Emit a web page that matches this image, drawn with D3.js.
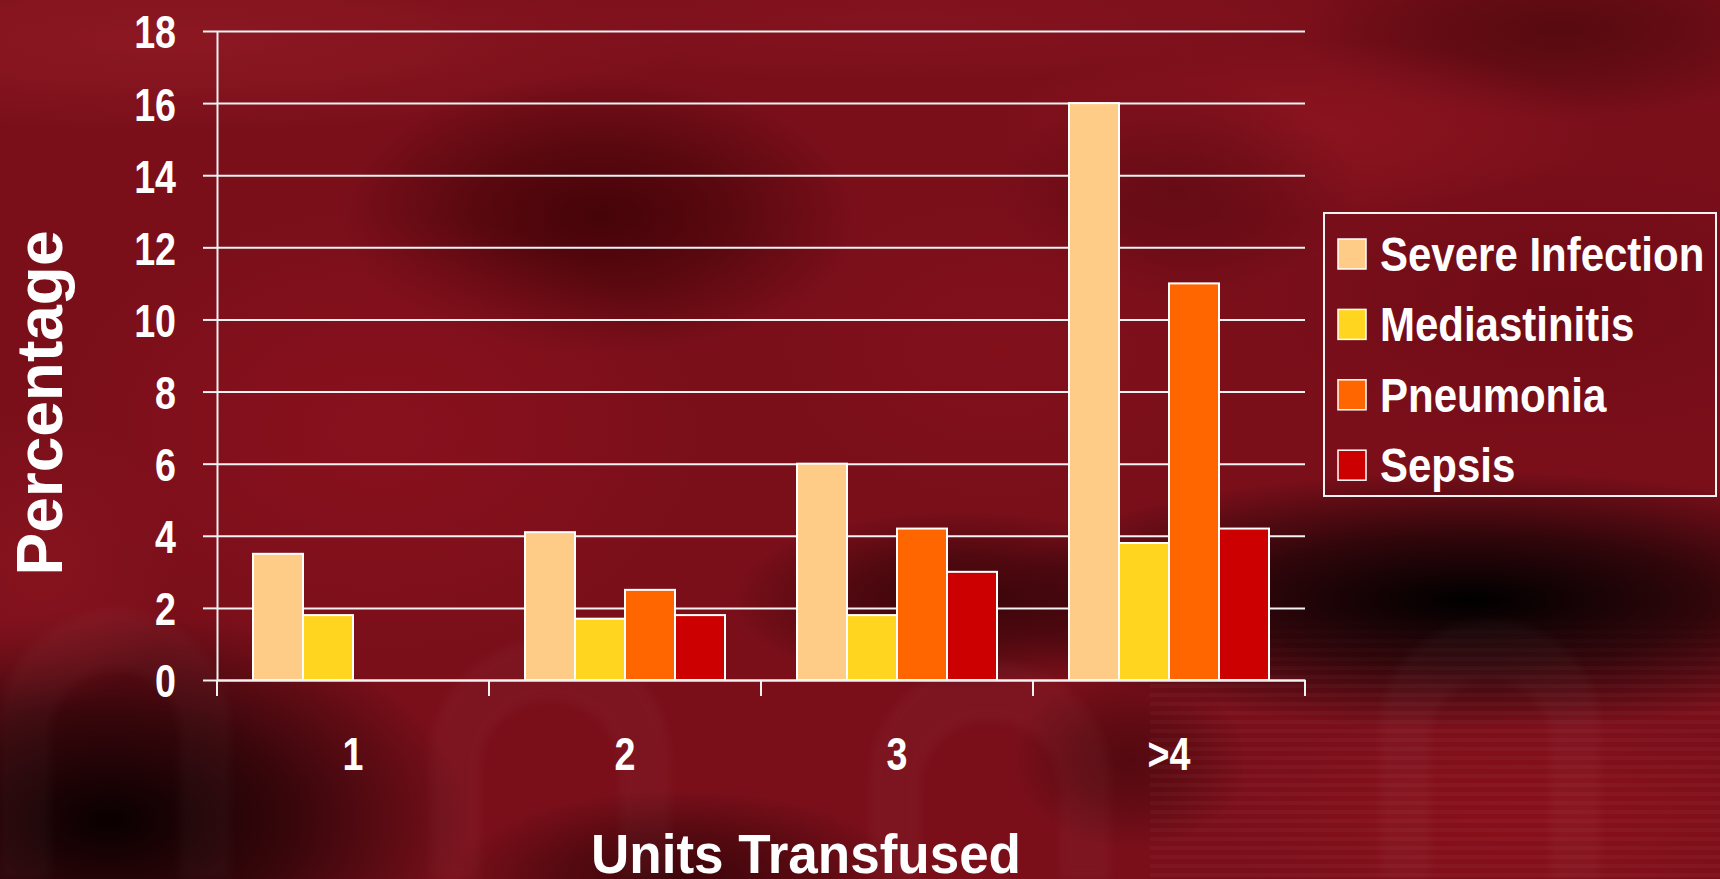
<!doctype html>
<html>
<head>
<meta charset="utf-8">
<style>
  html, body { margin: 0; padding: 0; background: #6a0c15; overflow: hidden; }
  svg { display: block; }
  .tick text { fill: #ffffff; font-family: "Liberation Sans Narrow", "Arial Narrow", "Liberation Sans", Arial, sans-serif; font-weight: bold; }
  .axis path, .axis line { stroke: #f2f2f2; }
  .grid line { stroke: #f2f2f2; }
  .title { fill: #ffffff; font-family: "Liberation Sans", Arial, sans-serif; font-weight: bold; }
</style>
<script src="https://d3js.org/d3.v7.min.js"></script>
</head>
<body>
<svg width="1720" height="879"></svg>
<script>
// data
var categories = ["1", "2", "3", ">4"];
var seriesNames = ["Severe Infection", "Mediastinitis", "Pneumonia", "Sepsis"];
var severeInfection = [3.5, 4.1, 6.0, 16.0];
var mediastinitis = [1.8, 1.7, 1.8, 3.8];
var pneumonia = [null, 2.5, 4.2, 11.0];
var sepsis = [null, 1.8, 3.0, 4.2];
var yTicks = [0, 2, 4, 6, 8, 10, 12, 14, 16, 18];
var colors = ["#ffcc88", "#ffd520", "#ff6600", "#cc0000"];

var seriesValues = [severeInfection, mediastinitis, pneumonia, sepsis];

var svg = d3.select("svg"),
    W = 1720, H = 879;

// tick labels are drawn condensed (narrow bold face)
var narrow = 0.8;

// ---- background: soft dark red blotches ----
var defs = svg.append("defs");
var stripes = defs.append("pattern").attr("id", "stripes").attr("width", 8).attr("height", 9)
    .attr("patternUnits", "userSpaceOnUse");
stripes.append("rect").attr("width", 8).attr("height", 4).attr("fill", "#ffffff").attr("opacity", 0.03);
defs.append("linearGradient").attr("id", "stripeFade").attr("x1", 0).attr("x2", 0).attr("y1", 0).attr("y2", 1)
    .selectAll("stop").data([[0, 0], [0.3, 1], [1, 1]]).enter().append("stop")
    .attr("offset", function(d) { return d[0]; })
    .attr("stop-color", "#fff").attr("stop-opacity", function(d) { return d[1]; });
defs.append("mask").attr("id", "stripeMask").append("rect")
    .attr("x", 1150).attr("y", 600).attr("width", 570).attr("height", 279).attr("fill", "url(#stripeFade)");
defs.append("filter").attr("id", "soft").attr("x", "-20%").attr("y", "-20%").attr("width", "140%").attr("height", "140%")
    .append("feGaussianBlur").attr("stdDeviation", 5);

// cx, cy, rx, ry, colour, strength
var blobs = [
    [180, 40, 520, 90, "#901a24", 0.8], [900, 20, 450, 60, "#8a1622", 0.6],
    [1560, 30, 260, 90, "#4e080d", 0.8], [1300, 130, 300, 90, "#8f1521", 0.8],
    [600, 215, 260, 140, "#420307", 0.95], [1180, 190, 180, 110, "#560810", 0.6],
    [380, 430, 320, 220, "#8e121f", 0.7], [1000, 350, 220, 150, "#86111d", 0.6],
    [1560, 300, 300, 140, "#6a0a14", 0.6],
    [1470, 600, 480, 130, "#000000", 1.0], [960, 600, 230, 90, "#2a0306", 0.85],
    [110, 820, 360, 210, "#0a0001", 1.0], [40, 560, 140, 150, "#8d1621", 0.6],
    [680, 879, 230, 90, "#2c0306", 0.8], [1520, 820, 300, 110, "#8c101a", 0.8],
    [1130, 760, 120, 90, "#3a0509", 0.6]
];
blobs.forEach(function(d, i) {
    var g = defs.append("radialGradient").attr("id", "blob" + i);
    g.append("stop").attr("offset", 0).attr("stop-color", d[4]).attr("stop-opacity", d[5]);
    g.append("stop").attr("offset", 0.5).attr("stop-color", d[4]).attr("stop-opacity", d[5] * 0.6);
    g.append("stop").attr("offset", 1).attr("stop-color", d[4]).attr("stop-opacity", 0);
});

var bg = svg.append("g");
bg.append("rect").attr("width", W).attr("height", H).attr("fill", "#7a0f1a");
bg.selectAll("ellipse").data(blobs).enter().append("ellipse")
    .attr("cx", function(d) { return d[0]; })
    .attr("cy", function(d) { return d[1]; })
    .attr("rx", function(d) { return d[2]; })
    .attr("ry", function(d) { return d[3]; })
    .attr("fill", function(d, i) { return "url(#blob" + i + ")"; });
// faint ghost letter arches
var arches = [[0, 610, 230], [430, 640, 240], [870, 660, 240], [1380, 620, 220]];
bg.selectAll("path.arch").data(arches).enter().append("path")
    .attr("class", "arch")
    .attr("d", function(d) {
        var x = d[0], y = d[1], w = d[2], r = w / 2;
        return "M" + x + "," + H + "V" + (y + r) + "A" + r + "," + r + " 0 0 1 " + (x + w) + "," + (y + r) + "V" + H +
               "H" + (x + w - 50) + "V" + (y + r + 10) + "A" + (r - 50) + "," + (r - 50) + " 0 0 0 " + (x + 50) + "," + (y + r + 10) + "V" + H + "Z";
    })
    .attr("fill", "#ffffff").attr("opacity", 0.025).attr("filter", "url(#soft)");
bg.append("rect").attr("x", 1150).attr("y", 600).attr("width", 570).attr("height", 279)
    .attr("fill", "url(#stripes)").attr("mask", "url(#stripeMask)");

// ---- chart ----
var plotLeft = 217, plotRight = 1305, plotTop = 31, plotBottom = 680;

var x = d3.scaleBand().domain(categories).range([plotLeft, plotRight]).paddingInner(0).paddingOuter(0);
var xs = d3.scaleBand().domain(seriesNames).range([0, x.bandwidth()]).paddingInner(0).paddingOuter(0.72);
var y = d3.scaleLinear().domain([0, 18]).range([plotBottom, plotTop]);

// gridlines
svg.append("g").attr("class", "grid")
    .attr("transform", "translate(" + plotLeft + ",0)")
    .call(d3.axisRight(y).tickValues(yTicks).tickSize(plotRight - plotLeft).tickFormat(""))
    .call(function(g) { g.select(".domain").remove(); })
    .selectAll("line").attr("stroke-width", 2);

// y axis
var yAxis = svg.append("g").attr("class", "axis")
    .attr("transform", "translate(" + plotLeft + ",0)")
    .call(d3.axisLeft(y).tickValues(yTicks).tickSize(14).tickSizeOuter(0).tickPadding(27));
yAxis.selectAll("path, line").attr("stroke-width", 2);
yAxis.selectAll("text")
    .attr("font-size", 47)
    .attr("dy", "0.36em")
    .attr("x", -41 / narrow)
    .attr("transform", "scale(" + narrow + ",1)");

// bars
var groups = svg.append("g").selectAll("g")
    .data(categories).enter().append("g")
    .attr("transform", function(d) { return "translate(" + x(d) + ",0)"; });

groups.selectAll("rect")
    .data(function(c, i) {
        return seriesNames.map(function(s, j) { return { s: s, v: seriesValues[j][i], c: colors[j] }; })
            .filter(function(d) { return d.v != null; });
    })
    .enter().append("rect")
    .attr("x", function(d) { return xs(d.s); })
    .attr("y", function(d) { return y(d.v); })
    .attr("width", xs.bandwidth())
    .attr("height", function(d) { return plotBottom - y(d.v); })
    .attr("fill", function(d) { return d.c; })
    .attr("stroke", "#ffffff")
    .attr("stroke-width", 2);

// x axis
var xAxis = svg.append("g").attr("class", "axis")
    .attr("transform", "translate(0," + plotBottom + ")")
    .call(d3.axisBottom(x).tickSize(0).tickSizeOuter(0).tickPadding(57));
xAxis.select(".domain").attr("stroke-width", 2);
xAxis.selectAll("text")
    .attr("font-size", 47)
    .attr("dy", "0.71em")
    .attr("transform", "scale(" + narrow + ",1)");
var bounds = categories.map(function(c) { return x(c); }).concat([x(categories[categories.length - 1]) + x.bandwidth()]);
xAxis.selectAll("line.sep").data(bounds).enter().append("line")
    .attr("class", "sep")
    .attr("x1", function(d) { return d; }).attr("x2", function(d) { return d; })
    .attr("y1", 0).attr("y2", 16)
    .attr("stroke", "#f2f2f2").attr("stroke-width", 2);

// axis titles
svg.append("text").attr("class", "title")
    .attr("transform", "translate(62,403) rotate(-90)")
    .attr("text-anchor", "middle")
    .attr("font-size", 64)
    .text("Percentage");

svg.append("text").attr("class", "title")
    .attr("x", 806).attr("y", 873)
    .attr("text-anchor", "middle")
    .attr("font-size", 55)
    .attr("textLength", 430).attr("lengthAdjust", "spacingAndGlyphs")
    .text("Units Transfused");

// legend
var legend = svg.append("g").attr("transform", "translate(1324,213)");
legend.append("rect").attr("width", 392).attr("height", 283)
    .attr("fill", "none").attr("stroke", "#f2f2f2").attr("stroke-width", 2);
var item = legend.selectAll("g.item").data(seriesNames).enter().append("g")
    .attr("class", "item")
    .attr("transform", function(d, i) { return "translate(14," + (41 + i * 70.4) + ")"; });
item.append("rect").attr("x", 0).attr("y", -15).attr("width", 28).attr("height", 30)
    .attr("fill", function(d, i) { return colors[i]; })
    .attr("stroke", "#ffffff").attr("stroke-width", 1.5);
item.append("text").attr("class", "title")
    .attr("transform", "translate(42,17) scale(0.875,1)")
    .attr("font-size", 48)
    .text(function(d) { return d; });
</script>
</body>
</html>
